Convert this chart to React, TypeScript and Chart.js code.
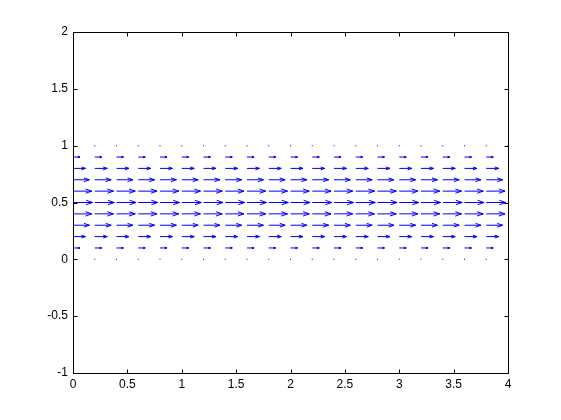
import React, { useEffect, useRef } from 'react';
import { Chart, registerables } from 'chart.js';

Chart.register(...registerables);

// Grid of arrow origins
const xPositions = [0, 0.2, 0.4, 0.6, 0.8, 1, 1.2, 1.4, 1.6, 1.8, 2, 2.2, 2.4, 2.6, 2.8, 3, 3.2, 3.4, 3.6, 3.8, 4];
const yPositions = [0, 0.1, 0.2, 0.3, 0.4, 0.5, 0.6, 0.7, 0.8, 0.9, 1];
// Horizontal velocity for each row (same in every column), v = 0
const rowSpeeds = [0, 0.09, 0.16, 0.21, 0.24, 0.25, 0.24, 0.21, 0.16, 0.09, 0];
// Quiver auto-scale factor (x units per unit speed)
const arrowScale = 0.72;
const headAlpha = 0.33;
const headBeta = 0.33;

const xTicks = [0, 0.5, 1, 1.5, 2, 2.5, 3, 3.5, 4];
const yTicks = [-1, -0.5, 0, 0.5, 1, 1.5, 2];

const BLUE = '#0000ff';

function buildArrows() {
  const pts: { x: number; y: number }[] = [];
  const dots: { x: number; y: number }[] = [];
  yPositions.forEach((y0, r) => {
    const u = rowSpeeds[r] * arrowScale;
    xPositions.forEach((x0) => {
      if (u === 0) {
        dots.push({ x: x0, y: y0 });
        return;
      }
      const tip = x0 + u;
      const back = tip - headAlpha * u;
      const off = headAlpha * headBeta * u;
      pts.push({ x: x0, y: y0 });
      pts.push({ x: tip, y: y0 });
      pts.push({ x: tip, y: NaN });
      pts.push({ x: back, y: y0 + off });
      pts.push({ x: tip, y: y0 });
      pts.push({ x: back, y: y0 - off });
      pts.push({ x: back, y: NaN });
    });
  });
  return { pts, dots };
}

const boxPlugin = {
  id: 'matlabBox',
  afterDraw(chart: any) {
    const { ctx, chartArea } = chart;
    const l = Math.round(chartArea.left) + 0.5;
    const r = Math.round(chartArea.right) + 0.5;
    const t = Math.round(chartArea.top) + 0.5;
    const b = Math.round(chartArea.bottom) + 0.5;
    const tl = 4;
    ctx.save();
    ctx.strokeStyle = '#000';
    ctx.lineWidth = 1;
    ctx.beginPath();
    ctx.rect(l, t, r - l, b - t);
    const xs = chart.scales.x;
    const ys = chart.scales.y;
    xTicks.forEach((v) => {
      const px = Math.round(xs.getPixelForValue(v)) + 0.5;
      ctx.moveTo(px, b);
      ctx.lineTo(px, b - tl);
      ctx.moveTo(px, t);
      ctx.lineTo(px, t + tl);
    });
    yTicks.forEach((v) => {
      const py = Math.round(ys.getPixelForValue(v)) + 0.5;
      ctx.moveTo(l, py);
      ctx.lineTo(l + tl, py);
      ctx.moveTo(r, py);
      ctx.lineTo(r - tl, py);
    });
    ctx.stroke();
    ctx.restore();
  },
};

export default function App() {
  const ref = useRef<HTMLCanvasElement | null>(null);
  useEffect(() => {
    if (!ref.current) return;
    const { pts, dots } = buildArrows();
    const font = { family: '"Liberation Sans", Arial, Helvetica, sans-serif', size: 12 };
    const chart = new Chart(ref.current, {
      type: 'scatter',
      data: {
        datasets: [
          {
            data: pts,
            showLine: true,
            borderColor: BLUE,
            borderWidth: 1,
            pointRadius: 0,
            spanGaps: false,
          } as any,
          {
            data: dots,
            showLine: false,
            pointStyle: 'rect',
            pointRadius: 0.7,
            borderWidth: 0,
            backgroundColor: BLUE,
          } as any,
        ],
      },
      options: {
        animation: false,
        responsive: false,
        devicePixelRatio: 1,
        layout: { padding: { top: 32, right: 53, bottom: 0, left: 0 } },
        plugins: { legend: { display: false }, tooltip: { enabled: false } },
        events: [],
        scales: {
          x: {
            type: 'linear',
            min: 0,
            max: 4,
            grid: { display: false, drawTicks: false },
            border: { display: false },
            afterBuildTicks: (s: any) => {
              s.ticks = xTicks.map((v) => ({ value: v }));
            },
            afterFit: (s: any) => {
              s.height = 47;
            },
            ticks: {
              color: '#000',
              font,
              padding: 4,
              maxRotation: 0,
              autoSkip: false,
              callback: (v: any) => String(v),
            },
          },
          y: {
            type: 'linear',
            min: -1,
            max: 2,
            grid: { display: false, drawTicks: false },
            border: { display: false },
            afterBuildTicks: (s: any) => {
              s.ticks = yTicks.map((v) => ({ value: v }));
            },
            afterFit: (s: any) => {
              s.width = 73;
            },
            ticks: {
              color: '#000',
              font,
              padding: 5,
              autoSkip: false,
              callback: (v: any) => String(v),
            },
          },
        },
      } as any,
      plugins: [boxPlugin],
    });
    return () => chart.destroy();
  }, []);
  return (
    <div style={{ position: 'fixed', left: 0, top: 0, width: 561, height: 420, background: '#fff' }}>
      <canvas ref={ref} width={561} height={420} style={{ display: 'block' }} />
    </div>
  );
}
